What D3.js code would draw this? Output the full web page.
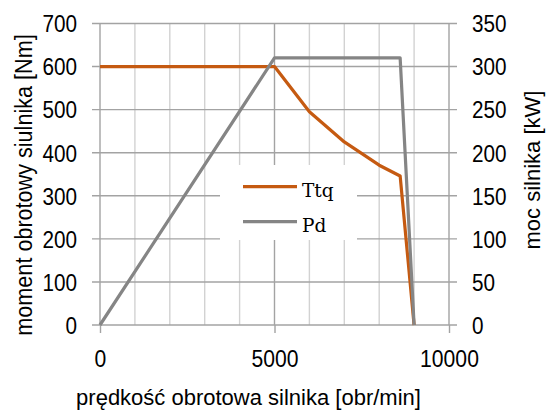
<!DOCTYPE html>
<html>
<head>
<meta charset="utf-8">
<script src="https://cdn.jsdelivr.net/npm/d3@7"></script>
<style>
  body { margin: 0; background: #fff; }
  svg { display: block; font-family: "Liberation Sans", Arial, sans-serif; }
</style>
</head>
<body>
<svg id="svg1" width="550" height="410"></svg>
<script>
// engine speed [obr/min]
var rpmTq = [0, 5000, 6000, 7000, 8000, 8600, 9000];
var torque = [600, 600, 495, 425, 371, 346, 0];      // Ttq [Nm]
var rpmPd = [0, 5000, 8600, 9000];
var power = [0, 310, 310, 0];                         // Pd [kW]

var xTicks = [0, 5000, 10000];
var xGrid = d3.range(0, 10001, 1000);
var leftTicks = d3.range(0, 701, 100);
var rightTicks = d3.range(0, 351, 50);

var svg = d3.select('#svg1');

var x = d3.scaleLinear().domain([0, 10000]).range([100, 449]);
var yL = d3.scaleLinear().domain([0, 700]).range([325, 23.5]);
var yR = d3.scaleLinear().domain([0, 350]).range([325, 23.5]);

// vertical gridlines
svg.append('g').selectAll('line')
    .data(xGrid)
    .enter()
    .append('line')
    .attr('x1', function(d) { return x(d); })
    .attr('x2', function(d) { return x(d); })
    .attr('y1', yL(0))
    .attr('y2', yL(700))
    .attr('stroke', function(d) { return d % 5000 === 0 ? '#a3a3a3' : '#d2d2d2'; })
    .attr('stroke-width', 1.4);

// horizontal gridlines (stick out on both sides like tick marks)
svg.append('g').selectAll('line')
    .data(leftTicks)
    .enter()
    .append('line')
    .attr('x1', x(0) - 8)
    .attr('x2', x(10000) + 8)
    .attr('y1', function(d) { return yL(d); })
    .attr('y2', function(d) { return yL(d); })
    .attr('stroke', '#a3a3a3')
    .attr('stroke-width', 1.4);

// x axis
var gx = svg.append('g')
    .attr('transform', 'translate(0,' + yL(0) + ')')
    .call(d3.axisBottom(x).tickValues(xTicks).tickSize(8).tickFormat(d3.format('d')));
gx.select('.domain').remove();
gx.selectAll('line').attr('stroke', '#a3a3a3').attr('stroke-width', 1.4);
gx.selectAll('text')
    .attr('x', 0).attr('y', 42).attr('dy', 0)
    .attr('font-size', 23).attr('fill', '#000')
    .attr('transform', 'scale(0.92,1)');

// left axis
var gl = svg.append('g')
    .attr('transform', 'translate(' + x(0) + ',0)')
    .call(d3.axisLeft(yL).tickValues(leftTicks).tickSize(0).tickFormat(d3.format('d')));
gl.select('.domain').remove();
gl.selectAll('text')
    .attr('x', 0).attr('dy', '0.36em')
    .attr('font-size', 23).attr('fill', '#000')
    .attr('transform', 'translate(-23,0) scale(0.9,1)');

// right axis
var gr = svg.append('g')
    .attr('transform', 'translate(' + x(10000) + ',0)')
    .call(d3.axisRight(yR).tickValues(rightTicks).tickSize(0).tickFormat(d3.format('d')));
gr.select('.domain').remove();
gr.selectAll('text')
    .attr('x', 0).attr('dy', '0.36em')
    .attr('font-size', 23).attr('fill', '#000')
    .attr('transform', 'translate(23,0) scale(0.9,1)');

// axis titles
svg.append('text')
    .attr('x', 248.5).attr('y', 405)
    .attr('text-anchor', 'middle')
    .attr('font-size', 22)
    .text('prędkość obrotowa silnika [obr/min]');

svg.append('text')
    .attr('transform', 'translate(32,185) rotate(-90) scale(0.9,1)')
    .attr('text-anchor', 'middle')
    .attr('font-size', 24)
    .text('moment obrotowy siulnika [Nm]');

svg.append('text')
    .attr('transform', 'translate(540,170) rotate(-90)')
    .attr('text-anchor', 'middle')
    .attr('font-size', 22)
    .text('moc silnika [kW]');

// series
var tqLine = d3.line()
    .x(function(d, i) { return x(rpmTq[i]); })
    .y(function(d) { return yL(d); });
var pdLine = d3.line()
    .x(function(d, i) { return x(rpmPd[i]); })
    .y(function(d) { return yR(d); });

svg.append('path')
    .datum(torque)
    .attr('d', tqLine)
    .attr('fill', 'none')
    .attr('stroke', '#c55a11')
    .attr('stroke-width', 3.2)
    .attr('stroke-linejoin', 'round');

svg.append('path')
    .datum(power)
    .attr('d', pdLine)
    .attr('fill', 'none')
    .attr('stroke', '#858585')
    .attr('stroke-width', 3.2)
    .attr('stroke-linejoin', 'round');

// legend
var legend = svg.append('g');
legend.append('rect')
    .attr('x', 220).attr('y', 165)
    .attr('width', 137).attr('height', 75)
    .attr('fill', '#fff');

var legendItems = [
  { name: 'Ttq', color: '#c55a11' },
  { name: 'Pd', color: '#858585' }
];
legend.selectAll('.leg-line')
    .data(legendItems)
    .enter()
    .append('line')
    .attr('class', 'leg-line')
    .attr('x1', 243).attr('x2', 297)
    .attr('y1', function(d, i) { return 186.7 + i * 35; })
    .attr('y2', function(d, i) { return 186.7 + i * 35; })
    .attr('stroke', function(d) { return d.color; })
    .attr('stroke-width', 3.2);
legend.selectAll('.leg-text')
    .data(legendItems)
    .enter()
    .append('text')
    .attr('class', 'leg-text')
    .attr('x', 302)
    .attr('y', function(d, i) { return 196.7 + i * 35; })
    .attr('font-family', '"DejaVu Serif", serif')
    .attr('font-size', 18.5)
    .text(function(d) { return d.name; });
</script>
</body>
</html>
